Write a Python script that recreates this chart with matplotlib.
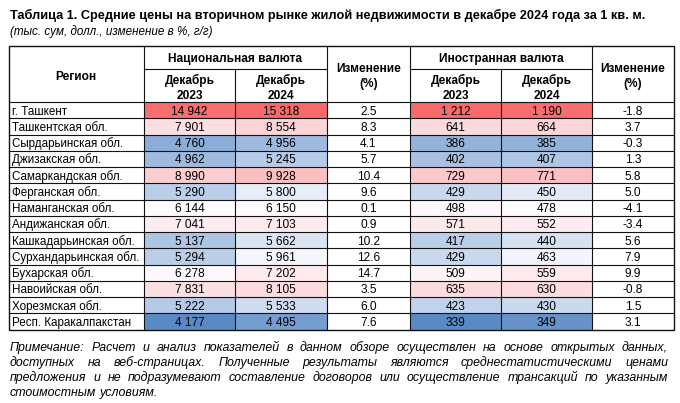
import numpy as np
import matplotlib
matplotlib.use("Agg")
import matplotlib.pyplot as plt
from matplotlib.patches import Rectangle

# data
regions = ["г. Ташкент", "Ташкентская обл.", "Сырдарьинская обл.", "Джизакская обл.",
           "Самаркандская обл.", "Ферганская обл.", "Наманганская обл.", "Андижанская обл.",
           "Кашкадарьинская обл.", "Сурхандарьинская обл.", "Бухарская обл.", "Навоийская обл.",
           "Хорезмская обл.", "Респ. Каракалпакстан"]
uzs_2023 = [14942, 7901, 4760, 4962, 8990, 5290, 6144, 7041, 5137, 5294, 6278, 7831, 5222, 4177]
uzs_2024 = [15318, 8554, 4956, 5245, 9928, 5800, 6150, 7103, 5662, 5961, 7202, 8105, 5533, 4495]
uzs_change = [2.5, 8.3, 4.1, 5.7, 10.4, 9.6, 0.1, 0.9, 10.2, 12.6, 14.7, 3.5, 6.0, 7.6]
usd_2023 = [1212, 641, 386, 402, 729, 429, 498, 571, 417, 429, 509, 635, 423, 339]
usd_2024 = [1190, 664, 385, 407, 771, 450, 478, 552, 440, 463, 559, 630, 430, 349]
usd_change = [-1.8, 3.7, -0.3, 1.3, 5.8, 5.0, -4.1, -3.4, 5.6, 7.9, 9.9, -0.8, 1.5, 3.1]

title = "Таблица 1. Средние цены на вторичном рынке жилой недвижимости в декабре 2024 года за 1 кв. м."
subtitle = "(тыс. сум, долл., изменение в %, г/г)"
note_lines = [
    "Примечание: Расчет и анализ показателей в данном обзоре осуществлен на основе открытых данных,",
    "доступных на веб-страницах. Полученные результаты являются среднестатистическими ценами",
    "предложения и не подразумевают составление договоров или осуществление трансакций по указанным",
    "стоимостным условиям.",
]

plt.rcParams['font.family'] = ['Liberation Sans', 'DejaVu Sans']

# 3-color scale like Excel (min blue, median white, max red)
c_min = np.array([90, 138, 198]) / 255
c_mid = np.array([252, 252, 255]) / 255
c_max = np.array([248, 105, 107]) / 255


def scale_colors(a, b):
    vals = np.array(a + b, dtype=float)
    lo, mid, hi = vals.min(), np.median(vals), vals.max()
    out = []
    for v in vals:
        if v <= mid:
            t = (mid - v) / (mid - lo)
            out.append(c_mid + (c_min - c_mid) * t)
        else:
            t = (v - mid) / (hi - mid)
            out.append(c_mid + (c_max - c_mid) * t)
    n = len(a)
    return out[:n], out[n:]


def fmt(v):
    return f"{v:,}".replace(",", " ")


uzs_c1, uzs_c2 = scale_colors(uzs_2023, uzs_2024)
usd_c1, usd_c2 = scale_colors(usd_2023, usd_2024)

W, H = 680, 403
fig = plt.figure(figsize=(W / 100, H / 100), dpi=100)
ax = fig.add_axes([0, 0, 1, 1])
ax.set_xlim(0, W)
ax.set_ylim(H, 0)
ax.axis("off")

# layout
col_x = [8.5, 144, 235, 327, 410, 501, 592, 674]
top, mid_line, head_bot = 46, 69, 102
row_h = 16.25
n = len(regions)
bottom = head_bot + n * row_h
fs = 8.6
base = 4.6  # center -> baseline offset

columns = [
    (None, None),
    ([fmt(v) for v in uzs_2023], uzs_c1),
    ([fmt(v) for v in uzs_2024], uzs_c2),
    ([f"{v:.1f}" for v in uzs_change], None),
    ([fmt(v) for v in usd_2023], usd_c1),
    ([fmt(v) for v in usd_2024], usd_c2),
    ([f"{v:.1f}" for v in usd_change], None),
]

for i, name in enumerate(regions):
    y0 = head_bot + i * row_h
    yb = y0 + row_h / 2 + base
    ax.text(col_x[0] + 3.5, yb, name, fontsize=8.35, ha="left", va="baseline")
    for j in range(1, 7):
        texts, colors = columns[j]
        if colors is not None:
            ax.add_patch(Rectangle((col_x[j], y0), col_x[j + 1] - col_x[j], row_h,
                                   facecolor=colors[i], edgecolor="none", zorder=0))
        ax.text((col_x[j] + col_x[j + 1]) / 2, yb, texts[i], fontsize=fs,
                ha="center", va="baseline")

# header
hb = dict(fontsize=fs, fontweight="bold", ha="center", va="baseline")
ax.text((col_x[0] + col_x[1]) / 2, 75 + base, "Регион", **hb)
for a, b, label in [(1, 3, "Национальная валюта"), (4, 6, "Иностранная валюта")]:
    ax.text((col_x[a] + col_x[b]) / 2, 57.5 + base, label, **hb)
for j, yr in [(1, "2023"), (2, "2024"), (4, "2023"), (5, "2024")]:
    xc = (col_x[j] + col_x[j + 1]) / 2
    ax.text(xc, 79 + base, "Декабрь", **hb)
    ax.text(xc, 94.5 + base, yr, **hb)
for j in (3, 6):
    xc = (col_x[j] + col_x[j + 1]) / 2
    ax.text(xc, 67.5 + base, "Изменение", **hb)
    ax.text(xc, 82.5 + base, "(%)", **hb)

# grid
lk = dict(color="#111111", lw=0.8, zorder=3)
for i in range(1, n):
    y = head_bot + i * row_h
    ax.plot([col_x[0], col_x[-1]], [y, y], **lk)
ax.plot([col_x[0], col_x[-1]], [head_bot, head_bot], **lk)
ax.plot([col_x[1], col_x[3]], [mid_line, mid_line], **lk)
ax.plot([col_x[4], col_x[6]], [mid_line, mid_line], **lk)
for j in (1, 3, 4, 6):
    ax.plot([col_x[j], col_x[j]], [top, bottom], **lk)
for j in (2, 5):
    ax.plot([col_x[j], col_x[j]], [mid_line, bottom], **lk)
ax.add_patch(Rectangle((col_x[0], top), col_x[-1] - col_x[0], bottom - top,
                       facecolor="none", edgecolor="#111111", lw=1.0, zorder=4))

# title
ax.text(10, 14 + 5, title, fontsize=9.2, fontweight="bold", ha="left", va="baseline")
ax.text(10, 30 + 4.5, subtitle, fontsize=8.4, style="italic", ha="left", va="baseline")

# note, justified (word by word)
renderer = fig.canvas.get_renderer()
left, right = 10, 668
note_fs = 8.9
for k, line in enumerate(note_lines):
    y = 351 + k * 15
    last = k == len(note_lines) - 1
    words = line.split(" ")
    objs = [ax.text(0, y, w, fontsize=note_fs, style="italic", ha="left", va="baseline")
            for w in words]
    widths = []
    for o, w in zip(objs, words):
        ww, hh, dd = renderer.get_text_width_height_descent(w, o.get_fontproperties(), ismath=False)
        widths.append(o.get_window_extent(renderer).width)
        # keep baselines on the same pixel row
        o.set_y(y + np.ceil(dd - 1e-6) - dd)
    space = objs[0].get_fontproperties().get_size_in_points() * 100 / 72 * 0.278
    gap = space if last else (right - left - sum(widths)) / (len(words) - 1)
    x = left
    for o, w in zip(objs, widths):
        o.set_x(x)
        x += w + gap

fig.savefig("out.png", dpi=100)
